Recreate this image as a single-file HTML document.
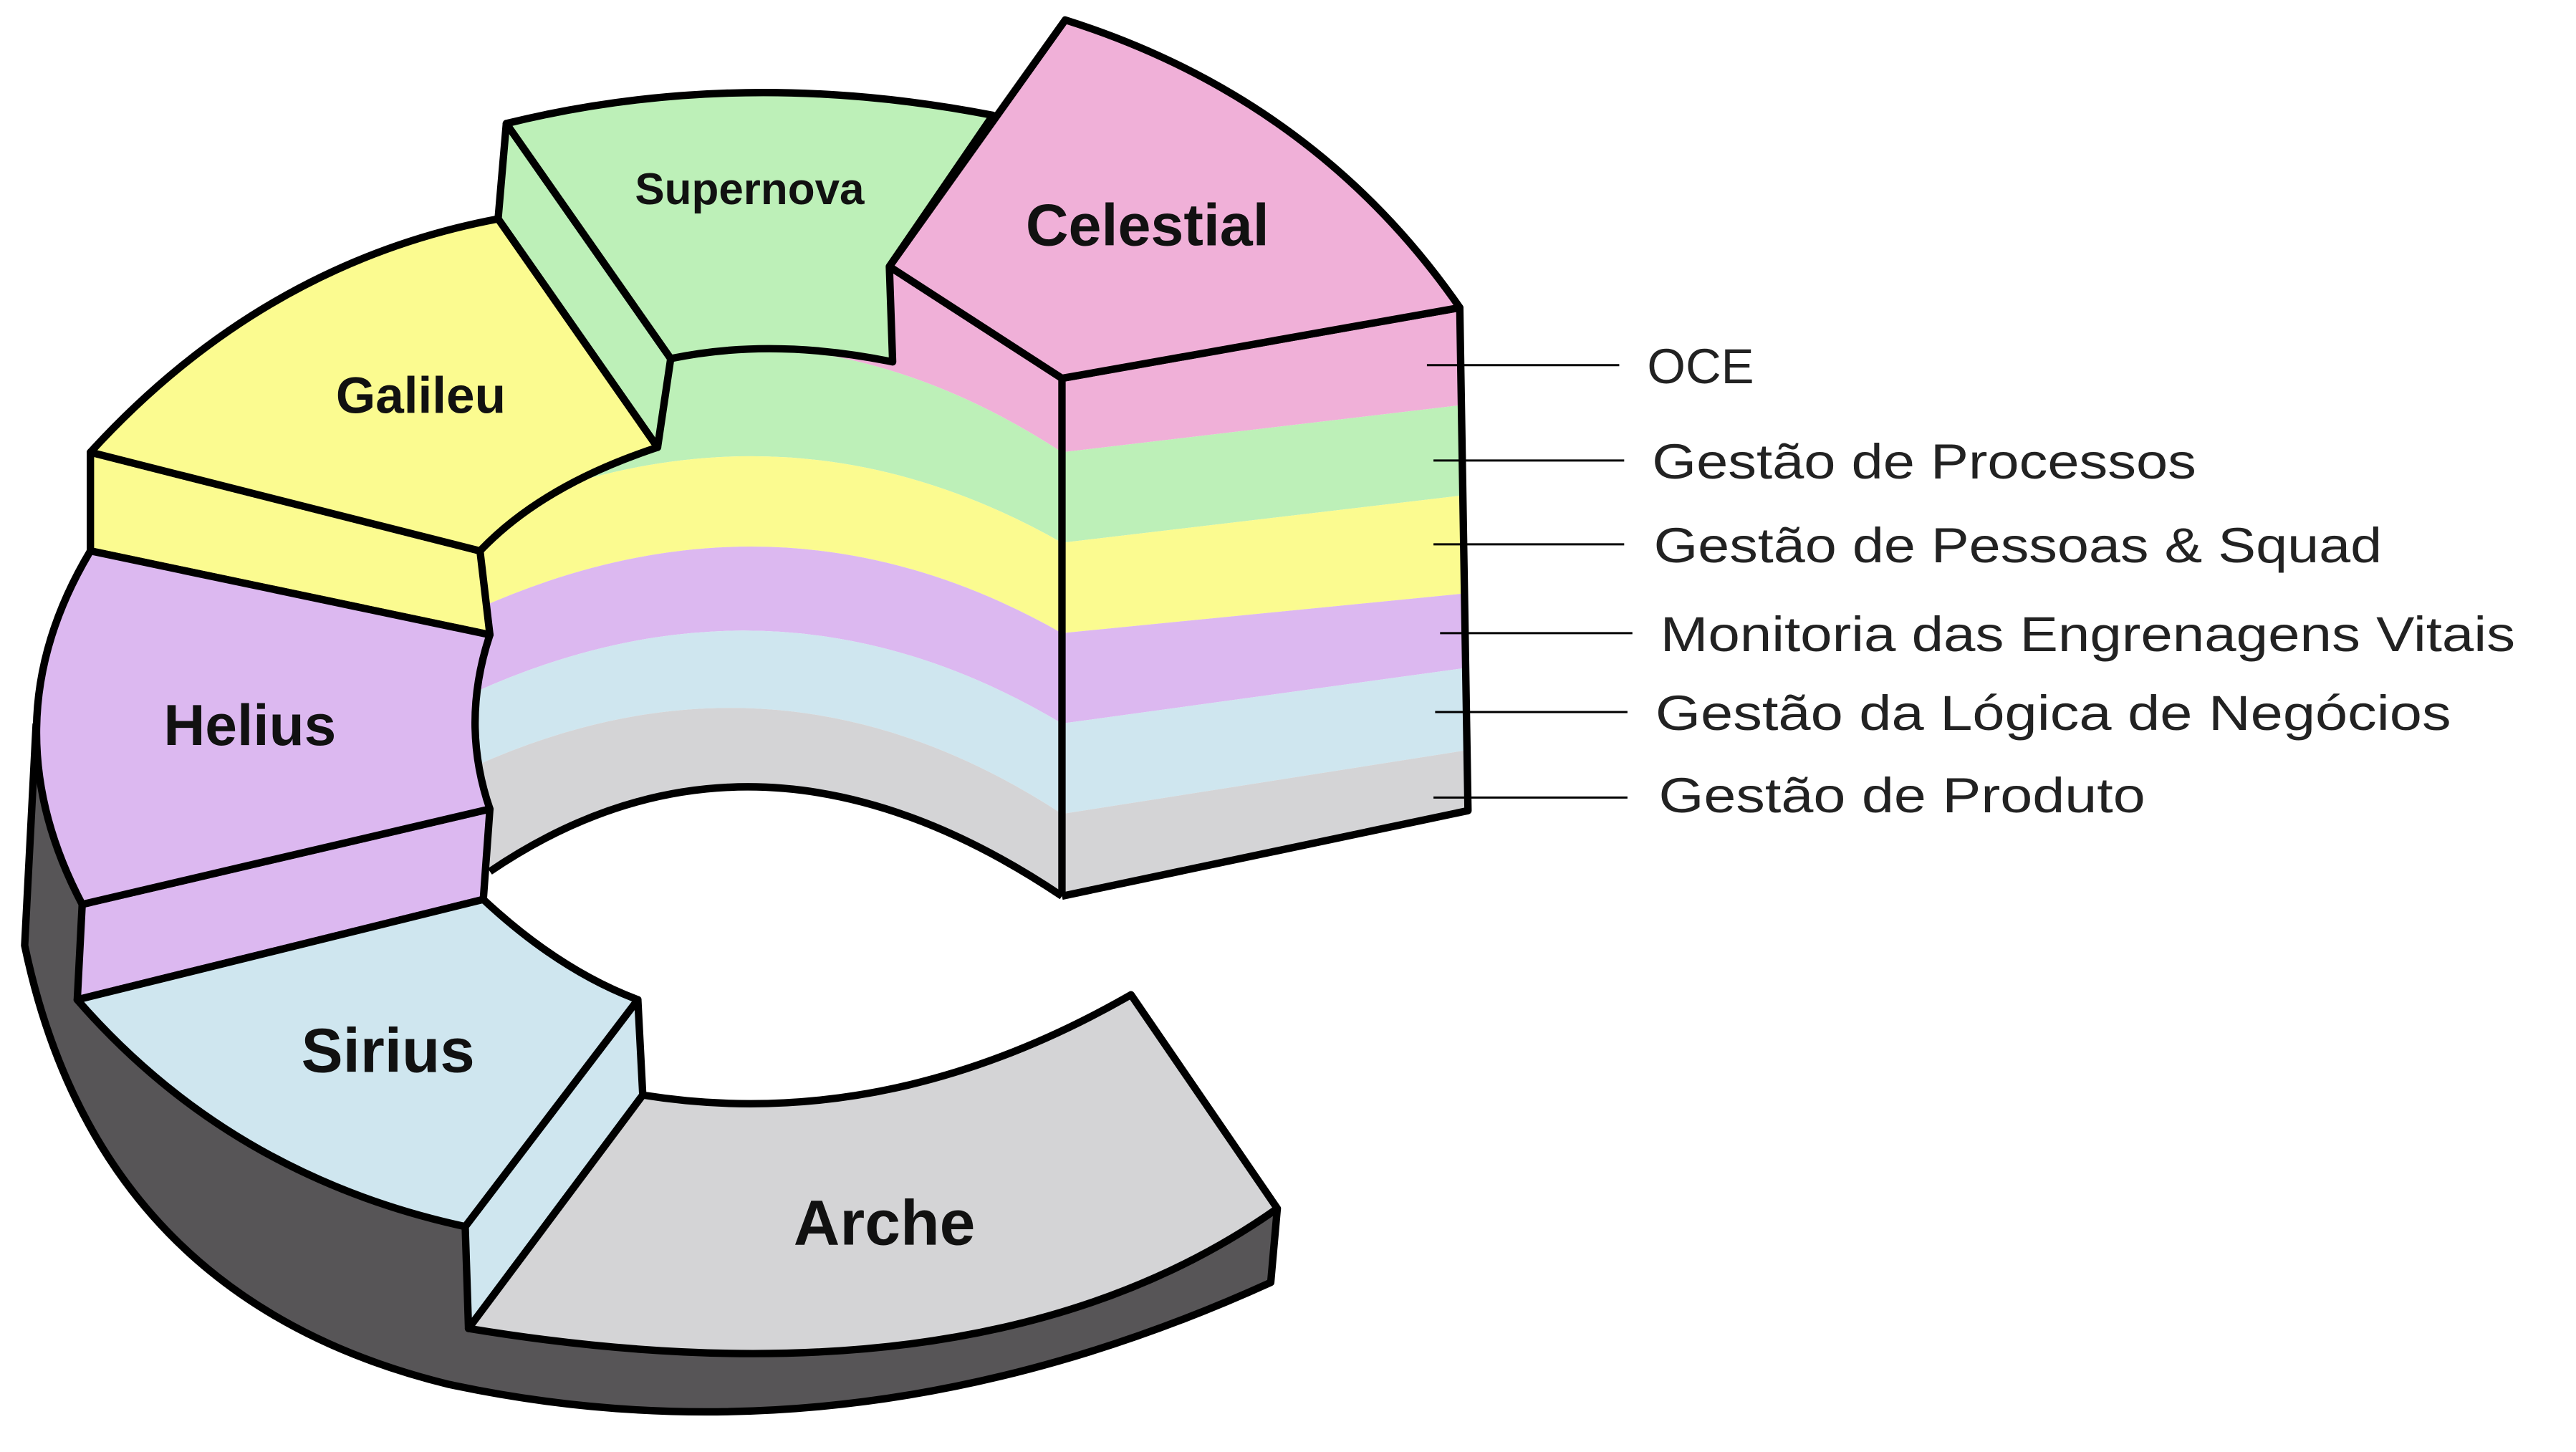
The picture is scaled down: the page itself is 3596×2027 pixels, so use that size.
<!DOCTYPE html>
<html><head><meta charset="utf-8"><style>
html,body{margin:0;padding:0;background:#fff;}
svg{display:block;}
</style></head><body>
<svg width="3596" height="2027" viewBox="0 0 1567 883" xmlns="http://www.w3.org/2000/svg">
<defs>
<clipPath id="inner">
<path d="M292,335 Q340,290 400,272 L408,218 Q470,205 543,220 L541,162 L646,230 L888,187 L893,493 L646,545 Q460,420 298,530 L298,492 Q280,440 298,386 Z"/>
</clipPath>
</defs>
<g stroke-linejoin="round" font-family="'Liberation Sans', sans-serif">
<!-- dark base -->
<path d="M22,440 L15,575 Q60,790 273,842 Q520,895 773,780 L777,735 L285,808 L283,746 L47,608 L50,550 L35,510 L25,470 Z" fill="#575557" stroke="none"/>
<path d="M22,440 L15,575 Q60,790 273,842 Q520,895 773,780 L777,735" fill="none" stroke="#000" stroke-width="4.5"/>
<!-- stripes -->
<g clip-path="url(#inner)" stroke="none">
<path d="M280,150 L900,150 L900,245 L646,275 Q470,160 280,250 Z" fill="#f0b0d8"/>
<path d="M280,250 Q470,160 646,275 L900,245 L900,300 L646,330 Q470,230 280,320 Z" fill="#bdf0b8"/>
<path d="M280,320 Q470,230 646,330 L900,300 L900,360 L646,385 Q470,285 280,375 Z" fill="#fbfb90"/>
<path d="M280,375 Q470,285 646,385 L900,360 L900,405 L646,440 Q470,335 280,425 Z" fill="#dcb8f0"/>
<path d="M280,425 Q470,335 646,440 L900,405 L900,455 L646,495 Q470,380 280,470 Z" fill="#cfe6ef"/>
<path d="M280,470 Q470,380 646,495 L900,455 L900,560 L280,560 Z" fill="#d4d4d6"/>
</g>
<path d="M298,530 Q460,420 646,545" fill="none" stroke="#000" stroke-width="4.5"/>
<path d="M541,162 L646,230 L646,545" fill="none" stroke="#000" stroke-width="4.5"/>
<path d="M646,230 L888,187 L893,493 L646,545" fill="none" stroke="#000" stroke-width="4.5"/>
<!-- Celestial -->
<path d="M648,12 Q800,60 888,187 L646,230 L541,162 Z" fill="#f0b0d8" stroke="#000" stroke-width="4.5"/>
<!-- Supernova -->
<path d="M308,75 L408,218 L400,272 L303,133 Z" fill="#bdf0b8" stroke="#000" stroke-width="4.5"/>
<path d="M308,75 Q450,40 604,70 L541,162 L543,220 Q470,205 408,218 Z" fill="#bdf0b8" stroke="#000" stroke-width="4.5"/>
<!-- Galileu -->
<path d="M55,275 L292,335 L298,386 L55,335 Z" fill="#fbfb90" stroke="#000" stroke-width="4.5"/>
<path d="M55,275 Q160,160 303,133 L400,272 Q330,295 292,335 Z" fill="#fbfb90" stroke="#000" stroke-width="4.5"/>
<!-- Helius -->
<path d="M50,550 L298,492 L294,547 L47,608 Z" fill="#dcb8f0" stroke="#000" stroke-width="4.5"/>
<path d="M55,335 L298,386 Q280,440 298,492 L50,550 Q-8,440 55,335 Z" fill="#dcb8f0" stroke="#000" stroke-width="4.5"/>
<!-- Sirius -->
<path d="M283,746 L388,608 L391,666 L285,808 Z" fill="#cfe6ef" stroke="#000" stroke-width="4.5"/>
<path d="M47,608 L294,547 Q340,590 388,608 L283,746 Q140,715 47,608 Z" fill="#cfe6ef" stroke="#000" stroke-width="4.5"/>
<!-- Arche -->
<path d="M285,808 L391,666 Q540,690 688,605 L777,735 Q600,860 285,808 Z" fill="#d4d4d6" stroke="#000" stroke-width="4.5"/>
<!-- labels -->
<g font-weight="bold" fill="#111" text-anchor="middle">
<text x="456" y="124" font-size="27">Supernova</text>
<text x="698" y="149" font-size="36">Celestial</text>
<text x="256" y="251" font-size="31">Galileu</text>
<text x="152" y="453" font-size="35">Helius</text>
<text x="236" y="652" font-size="38">Sirius</text>
<text x="538" y="757" font-size="39">Arche</text>
</g>
<g stroke="#000" stroke-width="1.3">
<line x1="868" y1="222" x2="985" y2="222"/>
<line x1="872" y1="280" x2="988" y2="280"/>
<line x1="872" y1="331" x2="988" y2="331"/>
<line x1="876" y1="385" x2="993" y2="385"/>
<line x1="873" y1="433" x2="990" y2="433"/>
<line x1="872" y1="485" x2="990" y2="485"/>
</g>
<g font-size="30" fill="#222">
<text x="1002" y="233" textLength="65" lengthAdjust="spacingAndGlyphs">OCE</text>
<text x="1005" y="291" textLength="331" lengthAdjust="spacingAndGlyphs">Gestão de Processos</text>
<text x="1006" y="342" textLength="443" lengthAdjust="spacingAndGlyphs">Gestão de Pessoas &amp; Squad</text>
<text x="1010" y="396" textLength="520" lengthAdjust="spacingAndGlyphs">Monitoria das Engrenagens Vitais</text>
<text x="1007" y="444" textLength="484" lengthAdjust="spacingAndGlyphs">Gestão da Lógica de Negócios</text>
<text x="1009" y="494" textLength="296" lengthAdjust="spacingAndGlyphs">Gestão de Produto</text>
</g>
</g>
</svg>
</body></html>
